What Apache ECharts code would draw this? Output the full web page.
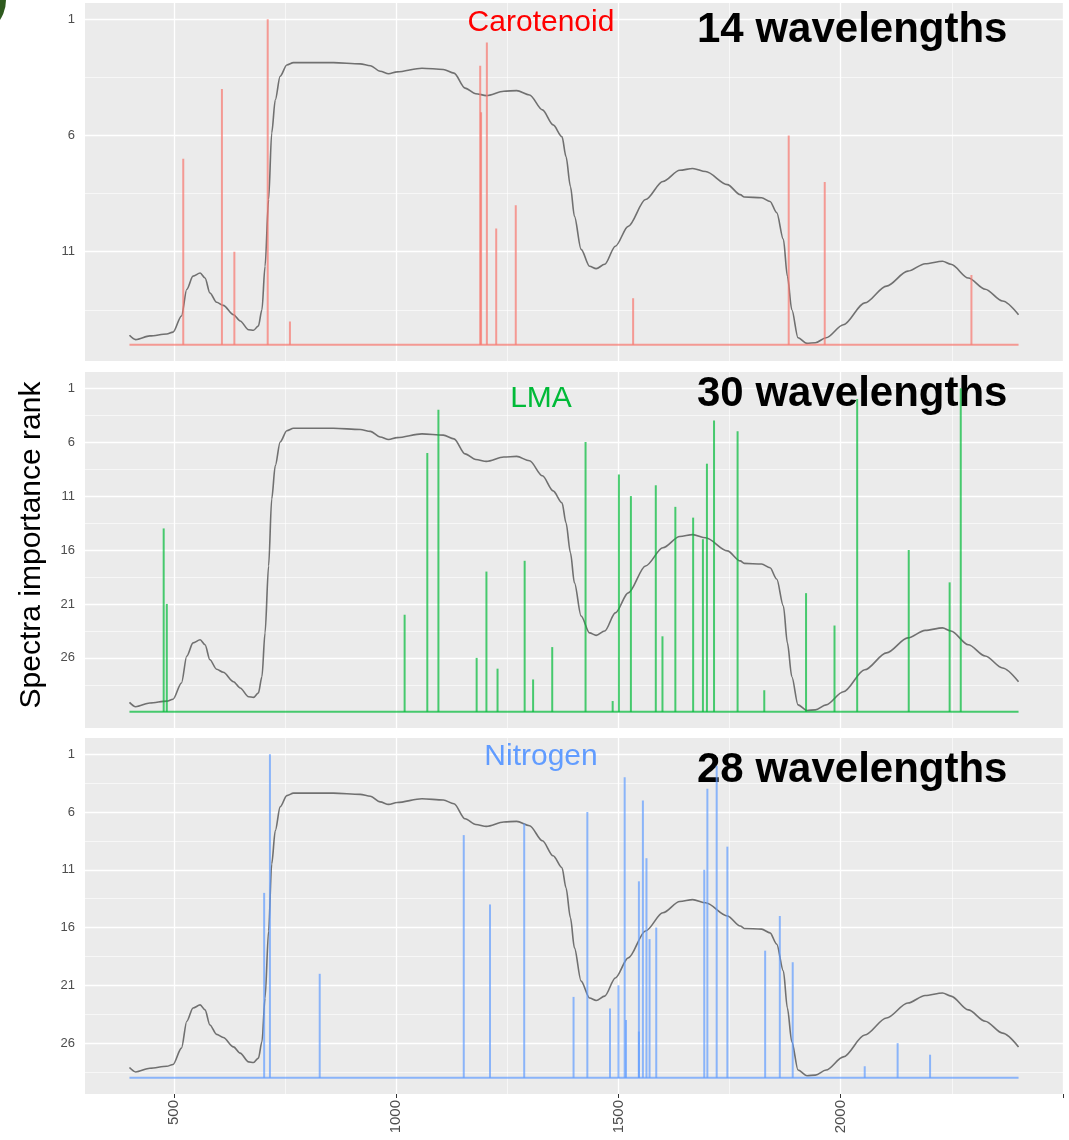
<!DOCTYPE html>
<html>
<head>
<meta charset="utf-8">
<script src="https://cdn.jsdelivr.net/npm/echarts@6/dist/echarts.min.js"></script>
<style>
  html, body { margin: 0; padding: 0; background: #ffffff; }
  #chart { width: 1069px; height: 1140px; }
</style>
</head>
<body>
<div id="chart"></div>
<script>
// Wavelength axis (nm)
const wlMajorTicks = [500, 1000, 1500, 2000, 2500];
const wlMinorTicks = [750, 1250, 1750, 2250];
const wlTickLabels = [500, 1000, 1500, 2000];

// Mean leaf reflectance spectrum drawn behind each panel
const spectrumWl = [400, 414, 446, 484, 498, 517, 529, 543, 559, 570, 581, 596, 611, 634, 649, 668, 679, 690, 698, 705,
  713, 720, 728, 739, 754, 769, 859, 919, 942, 964, 983, 1002, 1058, 1106, 1130, 1155, 1179, 1203, 1242, 1271,
  1300, 1329, 1353, 1373, 1382, 1392, 1401, 1416, 1435, 1450, 1469, 1493, 1522, 1561, 1600, 1638, 1667, 1696, 1745, 1774,
  1783, 1822, 1841, 1856, 1871, 1880, 1890, 1904, 1924, 1943, 1967, 2006, 2054, 2103, 2151, 2190, 2229, 2248, 2287, 2325,
  2364, 2400];
const spectrumRefl = [0.042, 0.035, 0.041, 0.044, 0.047, 0.073, 0.116, 0.137, 0.142, 0.134, 0.110, 0.095, 0.090, 0.075, 0.065, 0.051, 0.050, 0.057, 0.083, 0.153,
  0.260, 0.367, 0.420, 0.458, 0.476, 0.480, 0.480, 0.478, 0.475, 0.466, 0.462, 0.465, 0.471, 0.469, 0.463, 0.439, 0.430, 0.427, 0.434, 0.435,
  0.428, 0.404, 0.380, 0.361, 0.329, 0.281, 0.233, 0.180, 0.153, 0.149, 0.156, 0.185, 0.217, 0.260, 0.289, 0.307, 0.310, 0.305, 0.284, 0.268,
  0.264, 0.263, 0.257, 0.239, 0.196, 0.137, 0.083, 0.038, 0.029, 0.030, 0.038, 0.059, 0.094, 0.121, 0.145, 0.157, 0.161, 0.156, 0.134, 0.116,
  0.097, 0.075];

// Selected wavelengths and their importance rank
const carotenoidWl   = [711, 1204, 1189, 608, 1191, 1883, 521, 1964, 1269, 1225, 636, 2294, 1533, 761];
const carotenoidRank = [1, 2, 3, 4, 5, 6, 7, 8, 9, 10, 11, 12, 13, 14];

const lmaWl   = [2270, 2037, 1095, 1715, 1768, 1426, 1070, 1699, 1501, 1584, 1528, 1628, 1668, 477, 1690,
                 2153, 1289, 1203, 2245, 1922, 484, 1019, 1986, 1599, 1351, 1181, 1228, 1308, 1828, 1487];
const lmaRank = [1, 2, 3, 4, 5, 6, 7, 8, 9, 10, 11, 12, 13, 14, 15,
                 16, 17, 18, 19, 20, 21, 22, 23, 24, 25, 26, 27, 28, 29, 30];

const nitrogenWl   = [716, 1721, 1514, 1700, 1555, 1430, 1288, 1152, 1745, 1563, 1693, 1546, 703, 1211,
                      1863, 1585, 1570, 1830, 1892, 828, 1500, 1399, 1481, 1517, 1546, 2128, 2201, 2054];
const nitrogenRank = [1, 2, 3, 4, 5, 6, 7, 8, 9, 10, 11, 12, 13, 14,
                      15, 16, 17, 18, 19, 20, 21, 22, 23, 24, 25, 26, 27, 28];

const panels = [
  { title: 'Carotenoid', titleColor: '#FF0000', color: '#F8766D', wl: carotenoidWl, rank: carotenoidRank },
  { title: 'LMA',        titleColor: '#00BA38', color: '#00BA38', wl: lmaWl,        rank: lmaRank },
  { title: 'Nitrogen',   titleColor: '#619CFF', color: '#619CFF', wl: nitrogenWl,   rank: nitrogenRank }
];

// Panel geometry (px)
const panelBoxes = [
  { top: 3,   height: 358, titleY: 23,  countY: 30 },
  { top: 372, height: 356, titleY: 399, countY: 394 },
  { top: 738, height: 356, titleY: 757, countY: 770 }
];
const reflRanges = [[0.0007, 0.5757], [0.0010, 0.5699], [-0.0002, 0.568]];

const FONT = '"Liberation Sans", Arial, Helvetica, sans-serif';

const grids = [], xAxes = [], yAxes = [], series = [], graphics = [];

panels.forEach((p, i) => {
  const box = panelBoxes[i];
  const n = p.rank.length;
  const base = n + 1;
  const pad = 0.05 * n;
  const majors = [];
  for (let v = 1; v <= n; v += 5) majors.push(v);
  const minors = majors.map(v => v + 2.5).filter(v => v < base + pad);

  grids.push({
    left: 85, width: 978, top: box.top, height: box.height,
    show: true, backgroundColor: '#EBEBEB', borderWidth: 0
  });

  // major wavelength grid / labels
  xAxes.push({
    type: 'value', gridIndex: i, position: 'bottom', min: 300, max: 2500,
    axisLine: { show: false, onZero: false },
    axisTick: { show: i === 2, customValues: wlMajorTicks, length: 4, lineStyle: { color: '#333333', width: 1 } },
    axisLabel: {
      show: i === 2, customValues: wlTickLabels, rotate: 90, fontSize: 15, color: '#4D4D4D', margin: 6,
      fontFamily: FONT, formatter: v => String(v)
    },
    splitLine: { show: true, customValues: wlMajorTicks, lineStyle: { color: '#FFFFFF', width: 1.3 } }
  });
  // minor wavelength grid
  xAxes.push({
    type: 'value', gridIndex: i, position: 'bottom', min: 300, max: 2500,
    axisLine: { show: false, onZero: false },
    axisTick: { show: false, customValues: wlMinorTicks },
    axisLabel: { show: false },
    splitLine: { show: true, customValues: wlMinorTicks, lineStyle: { color: '#FFFFFF', width: 0.6 } }
  });

  // rank axis
  yAxes.push({
    type: 'value', gridIndex: i, position: 'left', inverse: true, min: 1 - pad, max: base + pad,
    axisLine: { show: false, onZero: false },
    axisTick: { show: false, customValues: majors },
    axisLabel: { customValues: majors, fontSize: 13, color: '#4D4D4D', margin: 10, fontFamily: FONT },
    splitLine: { show: true, customValues: majors, lineStyle: { color: '#FFFFFF', width: 1.3 } }
  });
  // minor rank grid
  yAxes.push({
    type: 'value', gridIndex: i, position: 'left', inverse: true, min: 1 - pad, max: base + pad,
    axisLine: { show: false, onZero: false },
    axisTick: { show: false, customValues: minors },
    axisLabel: { show: false },
    splitLine: { show: true, customValues: minors, lineStyle: { color: '#FFFFFF', width: 0.6 } }
  });
  // reflectance axis for the background spectrum
  yAxes.push({
    type: 'value', gridIndex: i, position: 'left', min: reflRanges[i][0], max: reflRanges[i][1],
    show: false, axisLine: { onZero: false }, splitLine: { show: false }
  });

  const xMajor = 2 * i;
  const yRank = 3 * i;
  const yRefl = 3 * i + 2;

  series.push({
    type: 'line', xAxisIndex: xMajor, yAxisIndex: yRefl, z: 3,
    data: spectrumWl.map((w, k) => [w, spectrumRefl[k]]),
    showSymbol: false, smooth: 0.3, smoothMonotone: 'x', silent: true,
    lineStyle: { color: '#1E1E1E', width: 1.6, opacity: 0.6 }
  });

  series.push({
    type: 'line', xAxisIndex: xMajor, yAxisIndex: yRank, z: 4,
    data: [[spectrumWl[0], base], [spectrumWl[spectrumWl.length - 1], base]],
    showSymbol: false, silent: true,
    lineStyle: { color: p.color, width: 2, opacity: 0.7 }
  });

  series.push({
    type: 'custom', xAxisIndex: xMajor, yAxisIndex: yRank, z: 4, silent: true,
    data: p.wl.map((w, k) => [w, p.rank[k]]),
    encode: { x: 0, y: 1 },
    renderItem: (params, api) => {
      const w = api.value(0);
      const tip = api.coord([w, api.value(1)]);
      const foot = api.coord([w, base]);
      return {
        type: 'line',
        shape: { x1: tip[0], y1: tip[1], x2: foot[0], y2: foot[1] },
        style: { stroke: p.color, lineWidth: 2, opacity: 0.7 }
      };
    }
  });

  graphics.push({
    type: 'text', x: 541, y: box.titleY, z: 1,
    style: { text: p.title, fill: p.titleColor, font: '30px ' + FONT, align: 'center', verticalAlign: 'middle' }
  });
  graphics.push({
    type: 'text', x: 697, y: box.countY, z: 1,
    style: { text: n + ' wavelengths', fill: '#000000', font: 'bold 42px ' + FONT, align: 'left', verticalAlign: 'middle' }
  });
});

graphics.push({
  type: 'text', x: 32, y: 545, rotation: Math.PI / 2, z: 1,
  style: { text: 'Spectra importance rank', fill: '#000000', font: '30px ' + FONT, align: 'center', verticalAlign: 'middle' }
});
graphics.push({
  type: 'circle', shape: { cx: -30, cy: 0, r: 36 }, z: 1,
  style: { fill: '#2E5A1E' }
});

const chart = echarts.init(document.getElementById('chart'), null, { renderer: 'canvas' });
chart.setOption({
  animation: false,
  backgroundColor: '#FFFFFF',
  grid: grids,
  xAxis: xAxes,
  yAxis: yAxes,
  series: series,
  graphic: { elements: graphics }
});
</script>
</body>
</html>
